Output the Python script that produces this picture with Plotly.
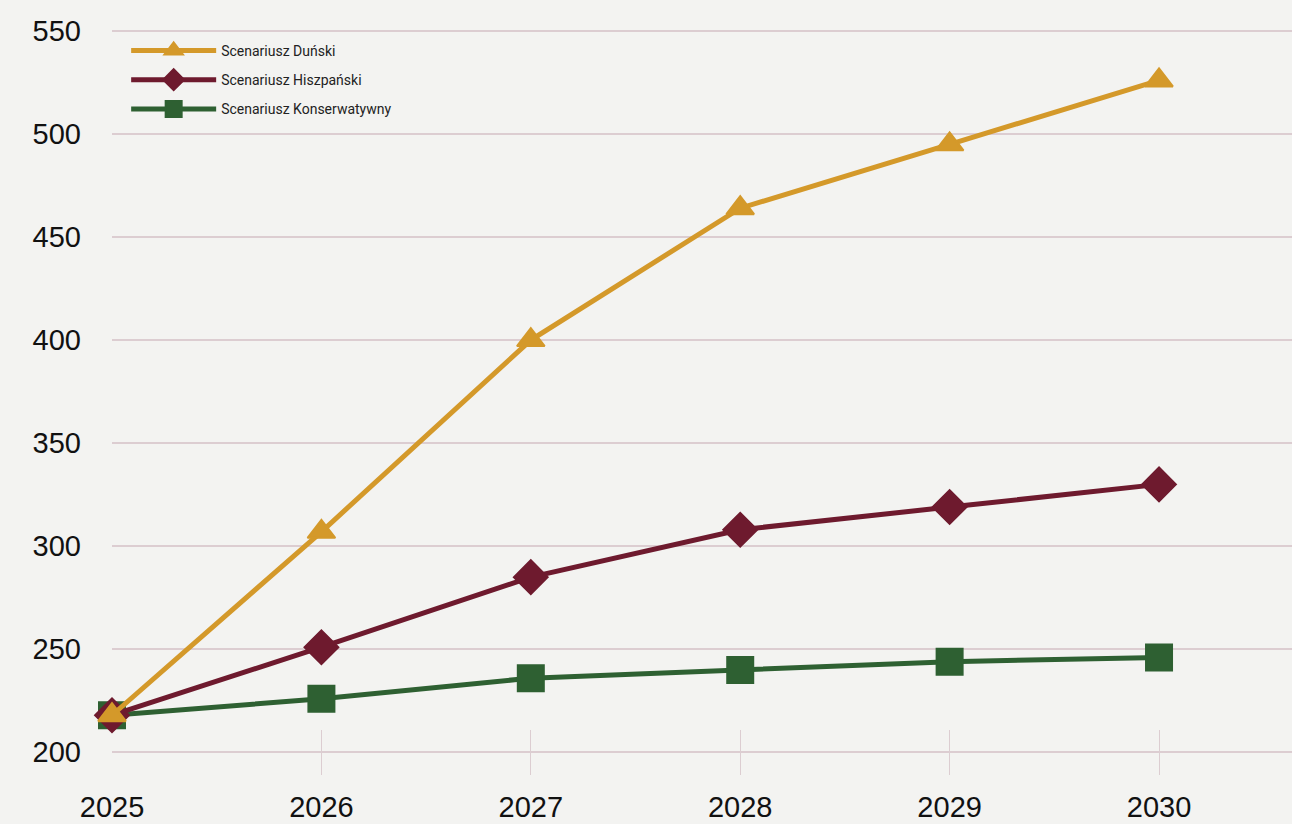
import plotly.graph_objects as go

years = [2025, 2026, 2027, 2028, 2029, 2030]
dunski = [218, 307, 400, 464, 495, 526]
hiszpanski = [218, 251, 285, 308, 319, 330]
konserwatywny = [218, 226, 236, 240, 244, 246]

y_ticks = [200, 250, 300, 350, 400, 450, 500, 550]

bg = "#f3f3f1"
grid = "#dccdd1"

fig = go.Figure()
series = [
    ("Scenariusz Duński", dunski, "#d4992a", "triangle-up", 24),
    ("Scenariusz Hiszpański", hiszpanski, "#6e1a2e", "diamond", 26),
    ("Scenariusz Konserwatywny", konserwatywny, "#2e6032", "square", 26),
]
# draw in reverse order so Duński is on top
for rank, (name, vals, col, sym, sz) in reversed(list(enumerate(series))):
    fig.add_trace(go.Scatter(
        x=years, y=vals, name=name, mode="lines+markers",
        legendgroup="g%d" % rank, legendrank=rank + 1,
        line=dict(color=col, width=5),
        marker=dict(symbol=sym, size=sz, color=col, line=dict(color=col, width=2)),
        cliponaxis=False,
    ))

fig.update_layout(
    width=1292, height=824,
    margin=dict(l=112, r=0, t=0, b=49),
    paper_bgcolor=bg, plot_bgcolor=bg,
    showlegend=True,
    legend=dict(
        x=0.012, y=0.955, xanchor="left", yanchor="top",
        traceorder="grouped", tracegroupgap=8,
        bgcolor="rgba(0,0,0,0)",
        font=dict(family="Roboto", size=14, color="#222222"),
        itemwidth=85,
    ),
    xaxis=dict(
        range=[2025, 2030.635],
        tickvals=years, ticktext=[str(y) for y in years],
        showgrid=False, zeroline=False, showline=False,
        ticks="inside", ticklen=45, tickcolor=grid, tickwidth=1,
        ticklabelstandoff=12,
        tickfont=dict(family="Liberation Sans Narrow, Liberation Sans, Arial", size=29, color="#111111"),
    ),
    yaxis=dict(
        range=[189, 565],
        tickvals=y_ticks,
        showgrid=True, gridcolor=grid, gridwidth=1.5,
        zeroline=False, showline=False,
        ticks="", ticklabelstandoff=30,
        tickfont=dict(family="Liberation Sans, Arial", size=29, color="#111111"),
    ),
)

fig.write_html("out.html")
